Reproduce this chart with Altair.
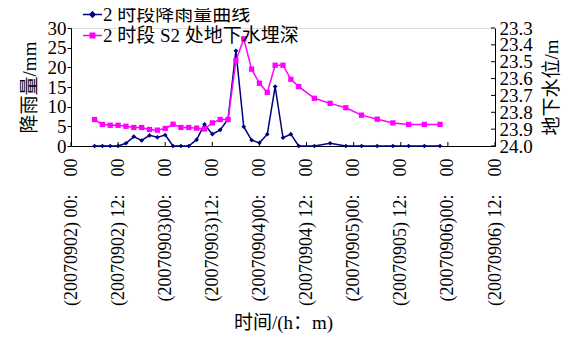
import altair as alt
import pandas as pd

# hours since 2007-09-02 00:00
hours = [6, 8, 10, 12, 14, 16, 18, 20, 22, 24, 26, 28, 30, 32, 34, 36, 38, 40, 42,
         44, 46, 48, 50, 52, 54, 56, 58, 62, 66, 70, 74, 78, 82, 86, 90, 94]
rain = [0, 0, 0, 0, 0.7, 2.4, 1.4, 2.7, 2.2, 2.8, 0, 0, 0, 1.6, 5.5, 3.0, 4.1, 6.8, 24.2,
        4.9, 1.5, 0.8, 3.0, 15.1, 2.1, 3.0, 0, 0, 0.7, 0, 0, 0, 0, 0, 0, 0]
depth = [23.843, 23.872, 23.877, 23.877, 23.883, 23.890, 23.890, 23.902, 23.906, 23.896,
         23.871, 23.890, 23.890, 23.894, 23.899, 23.863, 23.843, 23.843, 23.495,
         23.364, 23.544, 23.628, 23.682, 23.521, 23.521, 23.604, 23.648, 23.717,
         23.747, 23.773, 23.817, 23.841, 23.863, 23.872, 23.872, 23.872]

x_ticks = [0, 12, 24, 36, 48, 60, 72, 84, 96, 108]
NB = "\u00a0"
x_labels = ["(20070902) 00:", "(20070902) 12:", "(20070903)00:", "(20070903)12:",
            "(20070904)00:", "(20070904) 12:", "(20070905)00:", "(20070905) 12:",
            "(20070906)00:", "(20070906) 12:"]
x_labels = [s + NB * 4 + "00" for s in x_labels]
left_ticks = [0, 5, 10, 15, 20, 25, 30]
right_ticks = [23.3, 23.4, 23.5, 23.6, 23.7, 23.8, 23.9, 24.0]

series = ["2 时段降雨量曲线", "2 时段 S2 处地下水埋深"]
colors = ["#000080", "#FF00FF"]
legend_shapes = ["M-1,0H1M0,-0.27L0.27,0L0,0.27L-0.27,0Z",
                 "M-1,0H1M-0.23,-0.23H0.23V0.23H-0.23Z"]

FONT = "Liberation Serif, Noto Sans CJK SC"
W, H = 424, 118

df = pd.DataFrame({"h": hours, "rain": rain, "depth": depth})
xt = pd.DataFrame({"h": x_ticks})
rt = pd.DataFrame({"depth": right_ticks})
lg = pd.DataFrame({"s": series})

label_expr = "[" + ",".join("'" + s + "'" for s in x_labels) + "][round(datum.value/12)]"

xscale = alt.Scale(domain=[0, 108], nice=False, zero=False)
x_main = alt.X("h:Q", scale=xscale, axis=alt.Axis(
    values=x_ticks, labelExpr=label_expr, labelAngle=270, labelFontSize=18,
    labelPadding=12, ticks=False, grid=False, title="时间/(h：m)", titleFontSize=19,
    titleFontWeight="normal", titlePadding=8, domainColor="black", labelColor="black",
    titleColor="black", labelFont=FONT, titleFont=FONT, labelOverlap=False))

yl_scale = alt.Scale(domain=[0, 30], nice=False)
yl = alt.Y("rain:Q", scale=yl_scale, axis=alt.Axis(
    values=left_ticks, labelFontSize=19, tickSize=4, labelPadding=1, grid=False,
    title="降雨量/mm", titleFontSize=19, titleFontWeight="normal", titlePadding=8,
    domainColor="black", tickColor="black", labelColor="black", titleColor="black",
    labelFont=FONT, titleFont=FONT, labelOverlap=False, labelFlush=False))

yr_scale = alt.Scale(domain=[23.3, 24.0], reverse=True, nice=False, zero=False)
yr = alt.Y("depth:Q", scale=yr_scale, axis=alt.Axis(
    orient="right", values=right_ticks, format=".1f", labelFontSize=19, ticks=False,
    labelPadding=4, grid=False, title="地下水位/m", titleAngle=270, titleBaseline="top",
    titleFontSize=19, titleFontWeight="normal", titlePadding=10, domainColor="black",
    labelColor="black", titleColor="black", labelFont=FONT, titleFont=FONT,
    labelOverlap=False, labelFlush=False, labelBound=False))

rain_line = alt.Chart(df).mark_line(color=colors[0], strokeWidth=1.5).encode(x=x_main, y=yl)
rain_pts = alt.Chart(df).mark_point(shape="diamond", filled=True, size=22, color=colors[0],
                                   opacity=1).encode(x=x_main, y=yl)
x_ticks_in = alt.Chart(xt).mark_rule(color="black", strokeWidth=1).encode(
    x=x_main, y=alt.value(H), y2=alt.value(H - 4))


def mk_legend():
    return alt.Legend(
        title=None, orient="none", legendX=11, legendY=-24, symbolOpacity=1,
        labelFontSize=19, labelFont=FONT, labelColor="black", rowPadding=0,
        symbolSize=361, labelOffset=0, symbolStrokeWidth=1.5, labelLimit=400)


legend_layer = alt.Chart(lg).mark_point(opacity=0, size=361, strokeWidth=1.5).encode(
    fill=alt.Fill("s:N", scale=alt.Scale(domain=series, range=colors), legend=mk_legend()),
    stroke=alt.Stroke("s:N", scale=alt.Scale(domain=series, range=colors), legend=mk_legend()),
    shape=alt.Shape("s:N", scale=alt.Scale(domain=series, range=legend_shapes), legend=mk_legend()),
)

left_group = alt.layer(rain_line, rain_pts, x_ticks_in, legend_layer)

depth_line = alt.Chart(df).mark_line(color=colors[1], strokeWidth=1.5).encode(x=x_main, y=yr)
depth_pts = alt.Chart(df).mark_point(shape="square", filled=True, size=28, color=colors[1],
                                    opacity=1).encode(x=x_main, y=yr)
r_ticks_in = alt.Chart(rt).mark_rule(color="black", strokeWidth=1).encode(
    y=yr, x=alt.value(W), x2=alt.value(W - 4))

right_group = alt.layer(depth_line, depth_pts, r_ticks_in)

chart = alt.layer(left_group, right_group).resolve_scale(y="independent").properties(
    width=W, height=H,
    autosize=alt.AutoSizeParams(type="none"),
    padding={"left": 63, "top": 20, "right": 68, "bottom": 188},
).configure_view(stroke=None).configure(font=FONT, background="white")

chart.save("out.html", embed_options={"renderer": "svg", "actions": False})
